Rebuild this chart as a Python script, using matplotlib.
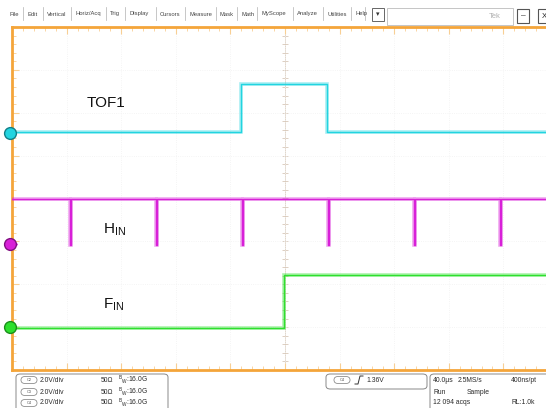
"""
Oscilloscope capture: TOF1, H_IN and F_IN traces on a Tek-style screen.
"""
import matplotlib.pyplot as plt
from matplotlib.patches import FancyBboxPatch, Rectangle
from matplotlib.lines import Line2D
from matplotlib.ticker import MultipleLocator
import numpy as np

plt.rcParams['font.family'] = ['Liberation Sans', 'DejaVu Sans']

# Horizontal: 40 us/div, 10 divisions. Vertical: 8 divisions, 2 V/div.
T_PER_DIV = 40.0
V_PER_DIV = 2.0

# TOF1 (cyan): ground marker position (div), levels (V), edges (us)
tof1_pos = 1.52
tof1_low, tof1_high = 0.05, 2.28
tof1_rise, tof1_fall = 168.0, 231.0

# H_IN (magenta): narrow low-going pulses
hin_pos = -1.05
hin_high, hin_low = 2.10, -0.05
hin_dips = [42.5, 105.5, 168.5, 231.5, 294.5, 357.5]
hin_dip_width = 0.4

# F_IN (green): single rising edge
fin_pos = -3.0
fin_low, fin_high = -0.03, 2.45
fin_rise = 199.5

menu_items = ["File", "Edit", "Vertical", "Horiz/Acq", "Trig", "Display", "Cursors",
              "Measure", "Mask", "Math", "MyScope", "Analyze", "Utilities", "Help"]
menu_x = [9, 27, 47, 75, 110, 129, 160, 189, 220, 241, 261, 297, 327, 355]

chan_names = ["C2", "C3", "C4"]
chan_scale = ["2.0V/div", "2.0V/div", "2.0V/div"]
trig_text = "1.36V"
acq_rows = [["40.0µs", "2.5MS/s", "400ns/pt"], ["Run", "Sample", ""], ["12 094 acqs", "", "RL:1.0k"]]
acq_x = [[433, 458, 511], [433, 467, 0], [433, 0, 511]]

ORANGE = '#f4a53a'
CYAN = '#22d4e0'
MAGENTA = '#d820d8'
GREEN = '#2ee02e'
TXT = '#2a2a2a'

W, H = 546, 408


def fx(px):
    return px / W


def fy(py):
    return 1 - py / H


def to_div(pos, volts):
    return pos + np.asarray(volts) / V_PER_DIV


fig = plt.figure(figsize=(W / 100, H / 100), dpi=100)
fig.patch.set_facecolor('white')

# Graticule area: left 12 px, top 27 px, bottom 370 px; right edge falls off the picture
ax = fig.add_axes([fx(12), fy(370), fx(558 - 12), (370 - 27) / H])
ax.set_xlim(0, 10 * T_PER_DIV)
ax.set_ylim(-4, 4)
ax.set_facecolor('white')

ax.xaxis.set_major_locator(MultipleLocator(T_PER_DIV))
ax.xaxis.set_minor_locator(MultipleLocator(T_PER_DIV / 5))
ax.yaxis.set_major_locator(MultipleLocator(1))
ax.yaxis.set_minor_locator(MultipleLocator(0.2))
ax.tick_params(which='both', direction='in', colors='#f8cf94', labelleft=False,
               labelbottom=False, top=True, right=False)
ax.tick_params(which='major', length=5, width=0.8)
ax.tick_params(which='minor', length=3, width=0.6)
for side in ['left', 'top', 'bottom']:
    ax.spines[side].set_color(ORANGE)
    ax.spines[side].set_linewidth(2)
ax.spines['right'].set_visible(False)

ax.grid(True, which='major', color='#f1f1f1', linestyle=':', linewidth=0.6)
center_t = 5 * T_PER_DIV
ax.axvline(center_t, color='#e2d6ca', linewidth=0.7, zorder=1)
ax.axhline(0, color='#f0f0f0', linewidth=0.7, zorder=1)
ticks_y = np.arange(-4, 4.01, 0.2)
ax.plot(np.full_like(ticks_y, center_t), ticks_y, linestyle='none', marker='_',
        markersize=4, color='#d8c8b8', markeredgewidth=0.6, zorder=1)

# TOF1
t1 = [0, tof1_rise, tof1_rise, tof1_fall, tof1_fall, 400]
v1 = [tof1_low, tof1_low, tof1_high, tof1_high, tof1_low, tof1_low]
# H_IN
t2, v2 = [0], [hin_high]
for d in hin_dips:
    t2 += [d, d, d + hin_dip_width, d + hin_dip_width]
    v2 += [hin_high, hin_low, hin_low, hin_high]
t2.append(400)
v2.append(hin_high)
# F_IN
t3 = [0, fin_rise, fin_rise, 400]
v3 = [fin_low, fin_low, fin_high, fin_high]

for t, v, pos, col in [(t1, v1, tof1_pos, CYAN), (t2, v2, hin_pos, MAGENTA), (t3, v3, fin_pos, GREEN)]:
    y = to_div(pos, v)
    ax.plot(t, y, color=col, linewidth=2.6, alpha=0.4, solid_joinstyle='miter', zorder=3)
    ax.plot(t, y, color=col, linewidth=1.0, zorder=4)

# channel ground markers
mk_t = -0.2 * T_PER_DIV / 5
ax.plot([mk_t], [tof1_pos], marker='o', markersize=8.5, color=CYAN, markeredgecolor='#127f88',
        clip_on=False, zorder=6)
ax.plot([mk_t + 3.0], [hin_pos], marker='>', markersize=5, color=MAGENTA, clip_on=False, zorder=5)
ax.plot([mk_t], [hin_pos], marker='o', markersize=8.5, color=MAGENTA, markeredgecolor='#801080',
        clip_on=False, zorder=6)
ax.plot([mk_t], [fin_pos], marker='o', markersize=8.5, color=GREEN, markeredgecolor='#1a901a',
        clip_on=False, zorder=6)

# trace labels
fig.text(fx(87), fy(103), "TOF1", fontsize=11, va='center', ha='left', color='#111111')
fig.text(fx(103), fy(230), r"H$_{\mathregular{IN}}$", fontsize=11, va='center', ha='left',
         color='#111111')
fig.text(fx(103), fy(305), r"F$_{\mathregular{IN}}$", fontsize=11, va='center', ha='left',
         color='#111111')

# menu bar
for name, x in zip(menu_items, menu_x):
    fig.text(fx(x), fy(14), name, fontsize=4.2, va='center', ha='left', color='#444444')
for x0 in menu_x[1:] + [369]:
    sep = x0 - 4
    fig.add_artist(Line2D([fx(sep), fx(sep)], [fy(7), fy(20)], color='#b0b0b0', linewidth=0.5))
fig.add_artist(Rectangle((fx(372), fy(21)), fx(12), 13 / H, facecolor='white',
                         edgecolor='#666666', linewidth=0.7))
fig.text(fx(378), fy(14.5), "▾", fontsize=5, ha='center', va='center', color='#333333')
fig.add_artist(Rectangle((fx(387), fy(25)), fx(126), 17 / H, facecolor='white',
                         edgecolor='#bbbbbb', linewidth=0.6))
fig.text(fx(489), fy(16), "Tek", fontsize=5.5, ha='left', va='center', color='#b0b0b0')
fig.add_artist(Rectangle((fx(517), fy(23)), fx(12), 14 / H, facecolor='white',
                         edgecolor='#555555', linewidth=0.8))
fig.text(fx(523), fy(16), "–", fontsize=6, ha='center', va='center', color='#222222')
fig.add_artist(Rectangle((fx(538), fy(23)), fx(12), 14 / H, facecolor='white',
                         edgecolor='#555555', linewidth=0.8))
fig.text(fx(544), fy(16), "X", fontsize=5.5, ha='center', va='center', color='#222222')


# status area boxes
def box(x0, y0, x1, y1):
    fig.add_artist(FancyBboxPatch((fx(x0), fy(y1)), fx(x1 - x0), (y1 - y0) / H,
                                  boxstyle='round,pad=0,rounding_size=0.008',
                                  facecolor='white', edgecolor='#888888', linewidth=0.7))


def badge(x, y, label):
    fig.add_artist(FancyBboxPatch((fx(x), fy(y + 3.5)), fx(16), 7 / H,
                                  boxstyle='round,pad=0,rounding_size=0.008',
                                  facecolor='white', edgecolor='#777777', linewidth=0.5))
    fig.text(fx(x + 8), fy(y), label, fontsize=2.8, ha='center', va='center', color='#555555')


box(16, 374, 168, 412)
box(326, 374, 427, 389)
box(430, 374, 560, 412)

row_y = [380, 392, 403]
for y, name, scale in zip(row_y, chan_names, chan_scale):
    badge(21, y, name)
    fig.text(fx(40), fy(y), scale, fontsize=4.9, va='center', ha='left', color=TXT)
    fig.text(fx(101), fy(y), "50Ω", fontsize=4.9, va='center', ha='left', color=TXT)
    fig.text(fx(118), fy(y), r"$\mathregular{^B{}_W}$:16.0G", fontsize=4.9, va='center',
             ha='left', color=TXT)

badge(334, 380, "C4")
fig.add_artist(Line2D([fx(355), fx(358), fx(360), fx(363)], [fy(384), fy(384), fy(376), fy(376)],
                      color='#333333', linewidth=0.7))
fig.text(fx(366), fy(380), trig_text, fontsize=4.9, va='center', ha='left', color=TXT)

for y, row, xs in zip(row_y, acq_rows, acq_x):
    for x, txt in zip(xs, row):
        if txt:
            fig.text(fx(x), fy(y), txt, fontsize=4.9, va='center', ha='left', color=TXT)

plt.savefig('out.png', dpi=100)
